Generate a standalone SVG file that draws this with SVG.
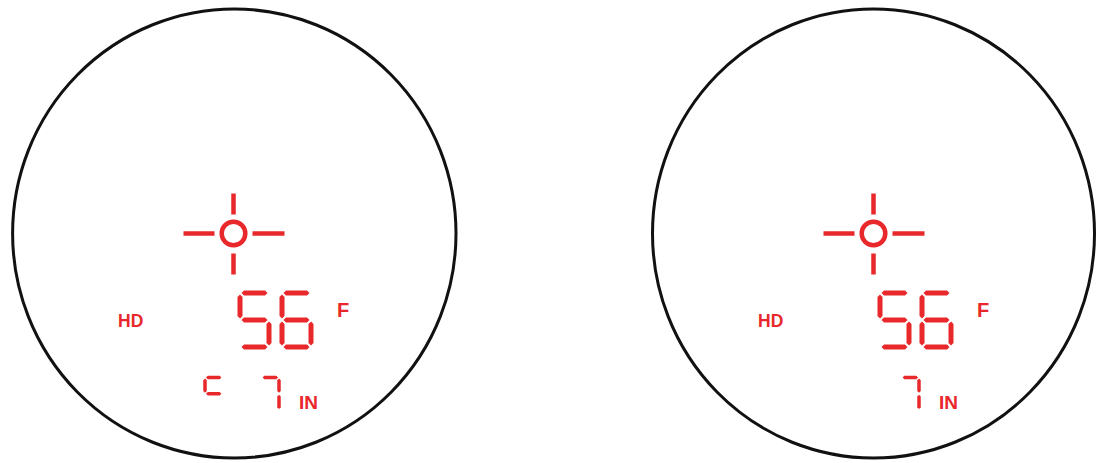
<svg xmlns="http://www.w3.org/2000/svg" width="1097" height="463" viewBox="0 0 1097 463">
<style>
.lens{fill:#fff;stroke:#111;stroke-width:3}
.red{fill:#e8282b}
.ret{stroke:#e8282b;stroke-width:4.5;fill:none}
.lbl{font-family:"Liberation Sans",Arial,sans-serif;font-weight:bold;fill:#e8282b}
</style>
<defs>
<polygon id="h" points="1.5,0 4,-2.5 25,-2.5 27.5,0 25,2.5 4,2.5"/>
<polygon id="v" points="0,1.5 2.5,4 2.5,23 0,25.5 -2.5,23 -2.5,4"/>
<polygon id="hs" points="1,0 2.75,-1.75 14.65,-1.75 16.4,0 14.65,1.75 2.75,1.75"/>
<polygon id="vs" points="0,1 1.75,2.75 1.75,13.45 0,15.2 -1.75,13.45 -1.75,2.75"/>
<g id="d5" class="red">
<use href="#h"/><use href="#h" y="27"/><use href="#h" y="54"/>
<use href="#v"/><use href="#v" x="29" y="27"/>
</g>
<g id="d6" class="red">
<use href="#h"/><use href="#h" y="27"/><use href="#h" y="54"/>
<use href="#v"/><use href="#v" y="27"/><use href="#v" x="29" y="27"/>
</g>
<g id="d7" class="red">
<use href="#hs"/><use href="#vs" x="17.4"/><use href="#vs" x="17.4" y="16.2"/>
</g>
<g id="dc" class="red">
<use href="#hs"/><use href="#vs"/><use href="#hs" y="16.2"/>
</g>
<g id="reticle">
<circle class="ret" cx="0" cy="0" r="11.8" stroke-width="3.8"/>
<line class="ret" x1="-50" y1="0" x2="-19" y2="0"/>
<line class="ret" x1="19" y1="0" x2="51" y2="0"/>
<line class="ret" x1="0" y1="-40" x2="0" y2="-19"/>
<line class="ret" x1="0" y1="20" x2="0" y2="41"/>
</g>
</defs>

<g id="view-left">
<ellipse class="lens" cx="234.3" cy="233.5" rx="221.7" ry="224.5"/>
<use href="#reticle" x="233.5" y="233.5"/>
<use href="#d5" x="240" y="293"/>
<use href="#d6" x="282" y="293"/>
<text class="lbl" x="337" y="317" font-size="20">F</text>
<text class="lbl" x="118" y="327" font-size="17.5">HD</text>
<use href="#dc" x="205" y="377.5"/>
<use href="#d7" x="261.6" y="377.5"/>
<text class="lbl" x="299" y="409" font-size="19">IN</text>
</g>

<g id="view-right">
<ellipse class="lens" cx="873.5" cy="233.5" rx="221" ry="224.5"/>
<use href="#reticle" x="873.5" y="233.5"/>
<use href="#d5" x="880" y="293"/>
<use href="#d6" x="922" y="293"/>
<text class="lbl" x="977" y="317" font-size="20">F</text>
<text class="lbl" x="758" y="327" font-size="17.5">HD</text>
<use href="#d7" x="901.6" y="377.5"/>
<text class="lbl" x="939" y="409" font-size="19">IN</text>
</g>
</svg>
